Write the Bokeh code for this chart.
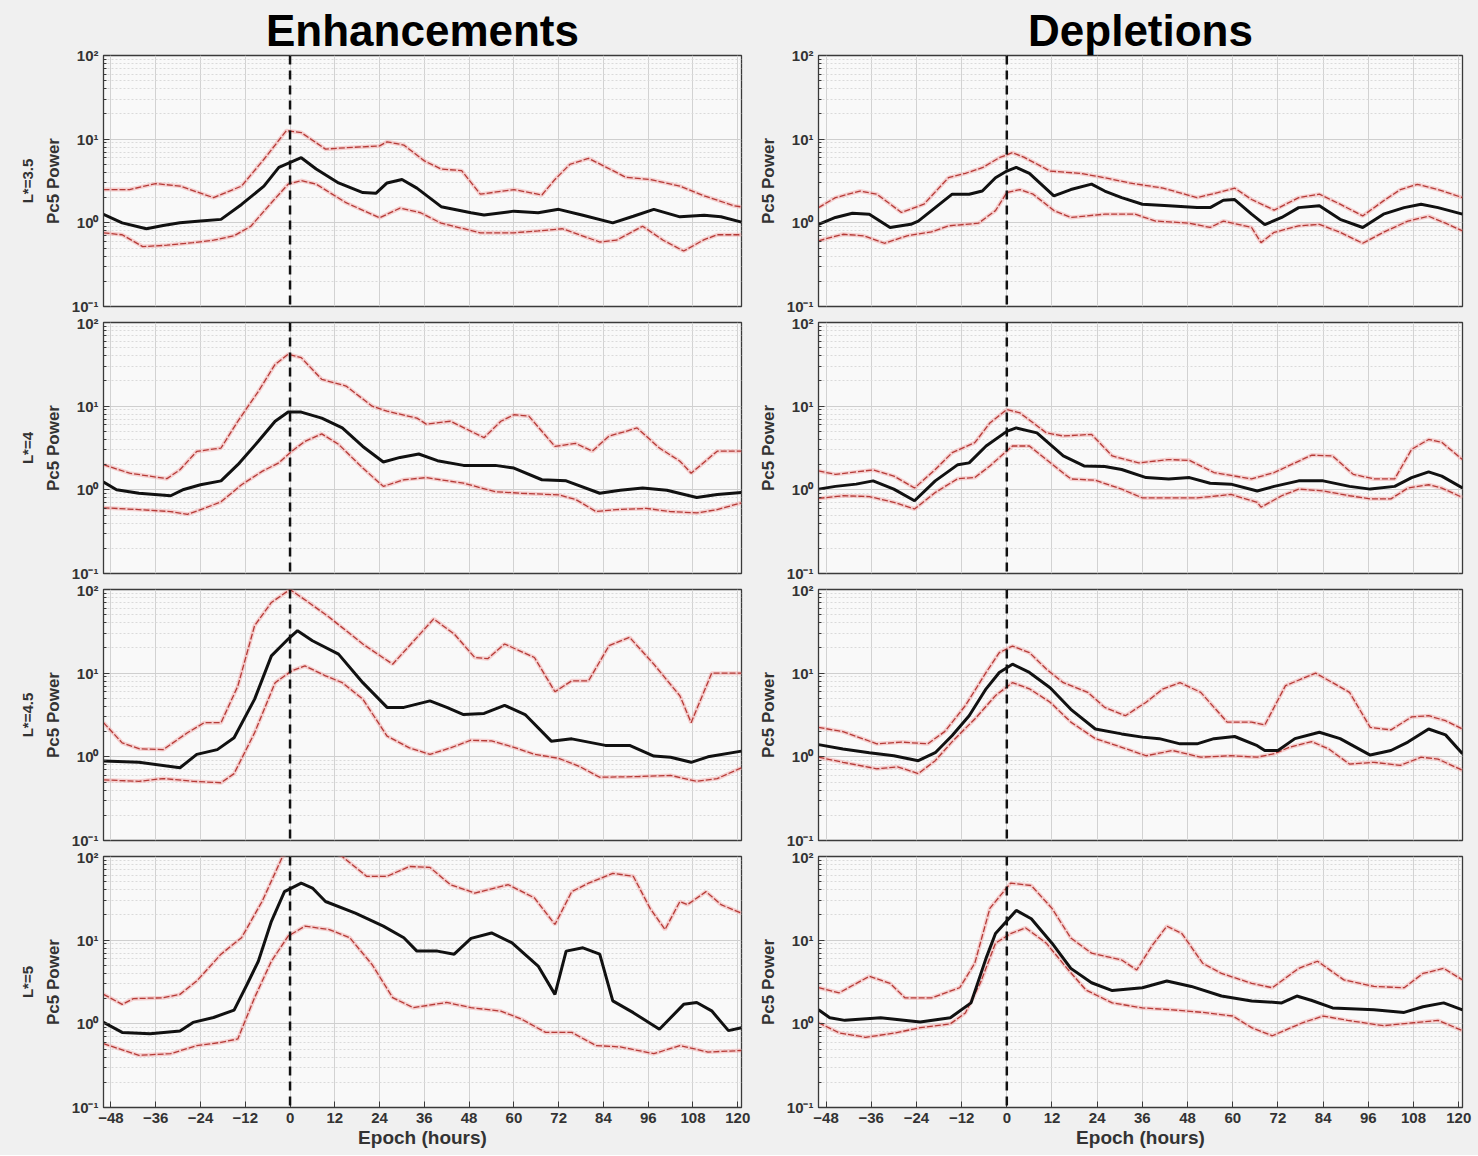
from bokeh.plotting import figure
from bokeh.layouts import column, row
from bokeh.models import Range1d, FixedTicker, Span, Title
from bokeh.embed import file_html
from bokeh.resources import INLINE

# ---------------------------------------------------------------- labels
COLUMN_TITLES = ["Enhancements", "Depletions"]
ROW_LABELS = ["L*=3.5", "L*=4", "L*=4.5", "L*=5"]
EPOCH_TICKS = [-48, -36, -24, -12, 0, 12, 24, 36, 48, 60, 72, 84, 96, 108, 120]
POWER_TICKS = [0.1, 1, 10, 100]
POWER_LABELS = {0.1: "10\u207b\u00b9", 1: "10\u2070", 10: "10\u00b9", 100: "10\u00b2"}
Y_LABEL = "Pc5 Power"
X_LABEL = "Epoch (hours)"

# ------------------------------------------------ (epoch hour, Pc5 power)
# Enhancements, L*=3.5
enh_l35_median = [(-50, 1.26), (-45, 1.0), (-38.5, 0.85), (-34, 0.93), (-29.5, 1.0), (-24, 1.05),
                  (-18.5, 1.1), (-13, 1.66), (-7, 2.75), (-3, 4.6), (3, 6.0), (7, 4.4), (13, 3.0),
                  (19.5, 2.3), (23, 2.25), (26, 3.0), (30, 3.3), (34, 2.6), (40.5, 1.56), (48.5, 1.32),
                  (52, 1.24), (60, 1.38), (66.5, 1.32), (72, 1.45), (78.5, 1.23), (86.5, 1.0), (92, 1.2),
                  (97.5, 1.45), (104.5, 1.18), (111, 1.23), (115.5, 1.18), (121, 1.02)]
enh_l35_upper = [(-50, 2.5), (-43, 2.5), (-36, 2.94), (-29.5, 2.75), (-20.5, 2.0), (-13, 2.75), (-7, 5.75),
                 (-1, 12.6), (3, 12), (9.5, 7.6), (15, 7.9), (24, 8.3), (26, 9.3), (30.5, 8.5), (36, 5.5),
                 (40.5, 4.4), (46, 4.2), (51, 2.2), (60, 2.5), (67.5, 2.15), (71, 3.3), (75, 5.0), (80, 5.9),
                 (84, 4.8), (90, 3.5), (96.5, 3.3), (104.5, 2.75), (111, 2.1), (119, 1.6), (121, 1.55)]
enh_l35_lower = [(-50, 0.76), (-45, 0.72), (-39.5, 0.52), (-33, 0.54), (-26, 0.58), (-20.5, 0.62), (-15, 0.7),
                 (-10.5, 0.91), (-5, 1.74), (-0.5, 2.9), (3, 3.2), (7, 2.9), (15, 1.74), (24, 1.15), (29.5, 1.5),
                 (35, 1.32), (40.5, 0.99), (51, 0.76), (60, 0.76), (66.5, 0.8), (73, 0.85), (83, 0.59),
                 (87.5, 0.62), (94.5, 0.91), (100, 0.62), (105.5, 0.46), (111, 0.63), (114.5, 0.72), (121, 0.72)]

# Enhancements, L*=4
enh_l4_median = [(-50, 1.24), (-46.5, 1.0), (-40.5, 0.91), (-32, 0.85), (-28.5, 1.01), (-24, 1.15), (-18.5, 1.28),
                 (-14, 2.0), (-8.5, 3.8), (-4, 6.6), (-0.5, 8.5), (3, 8.5), (8.5, 7.2), (14, 5.5), (19.5, 3.3),
                 (25, 2.15), (29.5, 2.44), (34.5, 2.68), (39.5, 2.23), (46.5, 1.96), (55, 1.96), (60, 1.82),
                 (67.5, 1.32), (74, 1.28), (83, 0.91), (88.5, 0.99), (94.5, 1.05), (101, 0.99), (109, 0.81),
                 (114.5, 0.88), (121, 0.93)]
enh_l4_upper = [(-50, 2.0), (-43, 1.58), (-33, 1.36), (-29.5, 1.74), (-25, 2.88), (-18.5, 3.16), (-14, 6.6),
                (-8.5, 15), (-4, 31.6), (-0.5, 41.7), (3, 38), (8.5, 20.9), (15, 17.4), (22, 10), (26, 8.7),
                (34, 7.2), (36.5, 6.1), (43, 6.6), (52, 4.2), (56.5, 6.6), (60, 7.9), (64, 7.6), (71, 3.3),
                (76.5, 3.6), (81, 2.9), (85.5, 4.4), (90, 5.0), (93, 5.5), (99, 3.16), (104.5, 2.2), (107.5, 1.58),
                (114.5, 2.9), (121, 2.9)]
enh_l4_lower = [(-50, 0.61), (-40.5, 0.58), (-32, 0.55), (-27.5, 0.51), (-23, 0.6), (-18.5, 0.72), (-13, 1.15),
                (-7.5, 1.66), (-3, 2.1), (0.5, 2.9), (4, 3.8), (8.5, 4.66), (13, 3.5), (19.5, 1.82), (25, 1.1),
                (30.5, 1.32), (36.5, 1.4), (46.5, 1.2), (55, 0.95), (62, 0.91), (72, 0.87), (76.5, 0.77),
                (82, 0.55), (87.5, 0.58), (95.5, 0.6), (102, 0.55), (109, 0.53), (114.5, 0.58), (121, 0.7)]

# Enhancements, L*=4.5
enh_l45_median = [(-50, 0.89), (-40.5, 0.86), (-29.5, 0.74), (-25, 1.07), (-19.5, 1.22), (-15, 1.69),
                  (-9.5, 4.9), (-5, 16.1), (-0.5, 25.6), (2, 32.2), (6, 24.4), (13, 16.9), (19.5, 7.7),
                  (26, 3.9), (30.5, 3.9), (37.5, 4.66), (42, 3.9), (46.5, 3.2), (52, 3.3), (57.5, 4.13),
                  (63, 3.2), (70, 1.54), (75.5, 1.64), (84.5, 1.37), (91, 1.37), (97.5, 1.02), (102, 0.99),
                  (107.5, 0.86), (112, 1.0), (121, 1.17)]
enh_l45_upper = [(-50, 2.56), (-45, 1.47), (-40.5, 1.25), (-34, 1.22), (-27.5, 1.94), (-23, 2.56),
                 (-18.5, 2.56), (-14, 7.0), (-9.5, 37), (-5, 70), (0, 100), (5, 70), (10.5, 46.6),
                 (19.5, 22.3), (27.5, 12.8), (32, 21.3), (38.5, 44.5), (44, 29.4), (49.5, 15.4), (53, 14.9),
                 (57.5, 22.3), (65.5, 15.4), (71, 6.0), (75.5, 8.1), (80, 8.1), (85.5, 21.3), (91, 26.8),
                 (97.5, 12.8), (104.5, 5.35), (107.5, 2.56), (113, 10), (121, 10)]
enh_l45_lower = [(-50, 0.53), (-40.5, 0.51), (-34, 0.55), (-26, 0.51), (-18.5, 0.49), (-15, 0.63),
                 (-9.5, 1.94), (-4, 7.7), (0.5, 10.7), (4, 12.2), (9.5, 9.3), (14, 7.7), (19.5, 4.9),
                 (26, 1.77), (32, 1.28), (37.5, 1.07), (43, 1.28), (48.5, 1.58), (54, 1.55), (60, 1.3),
                 (65.5, 1.07), (72, 0.96), (77.5, 0.77), (83, 0.57), (93, 0.58), (102, 0.6), (109, 0.51),
                 (114.5, 0.55), (121, 0.74)]

# Enhancements, L*=5
enh_l5_median = [(-50, 1.04), (-45, 0.79), (-37.5, 0.76), (-29.5, 0.82), (-26, 1.04), (-20.5, 1.19),
                 (-15, 1.46), (-11.5, 2.97), (-8.5, 5.6), (-5, 16.8), (-1.5, 38), (3, 48), (6, 42),
                 (9.5, 29), (17.5, 21), (25, 14.7), (30.5, 10.7), (34, 7.4), (39.5, 7.4), (44, 6.8),
                 (48.5, 10.5), (54, 12.2), (59.5, 9.3), (66.5, 4.9), (71, 2.25), (74, 7.4), (78.5, 8.1),
                 (83, 6.8), (86.5, 1.88), (92, 1.36), (99, 0.86), (105.5, 1.71), (109, 1.8), (113, 1.43),
                 (117.5, 0.83), (121, 0.9)]
enh_l5_upper = [(-50, 2.25), (-45, 1.71), (-42, 2.0), (-34, 2.05), (-29.5, 2.25), (-25, 3.25), (-18.5, 6.8),
                (-13, 10.7), (-7.5, 29), (-2, 100), (3, 150), (9, 130), (14, 100), (20.5, 58), (26, 58),
                (32, 76), (37.5, 74), (43, 46), (49.5, 36.6), (58.5, 46), (65.5, 32), (71, 15.4), (75.5, 38),
                (80, 48), (86.5, 63), (92, 58), (96.5, 24), (100.5, 13.4), (104.5, 29), (106.5, 26.6),
                (111.5, 38), (115.5, 26.6), (121, 21)]
enh_l5_lower = [(-50, 0.58), (-40.5, 0.42), (-32, 0.44), (-25, 0.55), (-18.5, 0.6), (-14, 0.66), (-9.5, 2.06),
                (-5, 5.6), (-0.5, 11.2), (4, 14.7), (10.5, 13.4), (16, 10.7), (22, 5.1), (27.5, 2.06),
                (33, 1.56), (42, 1.8), (48.5, 1.56), (56.5, 1.42), (62, 1.14), (68.5, 0.79), (75.5, 0.79),
                (82, 0.55), (88.5, 0.53), (97.5, 0.44), (104.5, 0.55), (112, 0.46), (121, 0.48)]

# Depletions, L*=3.5
dep_l35_median = [(-50, 0.96), (-45.5, 1.16), (-41, 1.3), (-36.5, 1.27), (-31, 0.88), (-25.5, 0.96),
                  (-23.5, 1.05), (-19, 1.52), (-14.5, 2.2), (-10, 2.2), (-6.5, 2.4), (-3, 3.46), (0, 4.16),
                  (2.5, 4.6), (6, 3.9), (12.5, 2.1), (17, 2.5), (22.5, 2.9), (26, 2.4), (30.5, 2.0), (36, 1.67),
                  (43, 1.6), (50.5, 1.52), (54, 1.52), (57.5, 1.86), (60.5, 1.9), (65, 1.27), (68.5, 0.95),
                  (73, 1.16), (77.5, 1.52), (83, 1.6), (88.5, 1.1), (94.5, 0.88), (100, 1.27), (105.5, 1.52),
                  (110, 1.67), (114.5, 1.52), (121, 1.27)]
dep_l35_upper = [(-50, 1.52), (-45.5, 2.0), (-39, 2.4), (-34.5, 2.2), (-28, 1.33), (-22, 1.67), (-15.5, 3.46),
                 (-11, 3.9), (-6.5, 4.56), (-2, 6.0), (1.5, 6.9), (4.5, 6.1), (11.5, 4.16), (19.5, 3.9),
                 (26, 3.46), (32.5, 3.0), (41.5, 2.6), (50.5, 2.0), (56, 2.3), (60.5, 2.6), (65, 1.9),
                 (71, 1.42), (77.5, 2.0), (83, 2.2), (88.5, 1.67), (94.5, 1.21), (100, 1.83), (104.5, 2.5),
                 (109, 2.88), (114.5, 2.5), (121, 2.0)]
dep_l35_lower = [(-50, 0.61), (-43.5, 0.73), (-38, 0.7), (-32.5, 0.57), (-26.5, 0.7), (-20, 0.78),
                 (-15.5, 0.92), (-7.5, 0.99), (-3, 1.4), (0, 2.3), (3.5, 2.5), (7, 2.2), (12.5, 1.4),
                 (17, 1.16), (26, 1.27), (34, 1.27), (39.5, 1.05), (48.5, 0.99), (54, 0.88), (57.5, 1.05),
                 (65, 0.88), (67.5, 0.58), (71, 0.77), (77.5, 0.92), (83, 0.96), (88.5, 0.77), (94.5, 0.57),
                 (100, 0.77), (106.5, 1.05), (112, 1.2), (116.5, 0.99), (121, 0.8)]

# Depletions, L*=4
dep_l4_median = [(-50, 1.02), (-45.5, 1.1), (-40, 1.17), (-35.5, 1.28), (-30, 1.02), (-24.5, 0.74), (-19, 1.28),
                 (-13, 2.0), (-10, 2.1), (-5.5, 3.34), (0, 5.0), (2.5, 5.5), (8, 4.8), (15, 2.54), (20.5, 1.93),
                 (26, 1.9), (30.5, 1.75), (37, 1.4), (43, 1.35), (48.5, 1.4), (54, 1.2), (59.5, 1.17),
                 (66.5, 0.97), (71, 1.1), (77.5, 1.28), (84, 1.28), (91, 1.1), (96.5, 1.02), (103, 1.1),
                 (107.5, 1.4), (112, 1.64), (115.5, 1.46), (121, 1.05)]
dep_l4_upper = [(-50, 1.68), (-45.5, 1.53), (-35.5, 1.73), (-30, 1.46), (-24.5, 1.05), (-19, 1.75),
                (-14.5, 2.78), (-8.5, 3.66), (-4.5, 6.3), (0, 9.1), (3.5, 8.3), (10.5, 4.8), (15, 4.4),
                (22.5, 4.6), (28, 2.54), (35, 2.1), (43, 2.3), (48.5, 2.25), (55, 1.61), (65, 1.35), (71, 1.61),
                (76.5, 2.1), (81, 2.6), (86.5, 2.54), (92, 1.53), (97.5, 1.35), (103, 1.35), (107.5, 3.05),
                (112, 4.0), (115.5, 3.7), (121, 2.3)]
dep_l4_lower = [(-50, 0.79), (-43.5, 0.85), (-36.5, 0.83), (-30, 0.71), (-24.5, 0.59), (-19, 0.93), (-13, 1.36),
                (-8.5, 1.4), (-4.5, 1.93), (1.5, 3.34), (6, 3.34), (10.5, 2.3), (17, 1.35), (23.5, 1.3),
                (30.5, 1.02), (36, 0.8), (43, 0.8), (50.5, 0.8), (59.5, 0.88), (66.5, 0.71), (67.5, 0.62),
                (73, 0.85), (77.5, 1.02), (84, 0.97), (91, 0.85), (96.5, 0.78), (102, 0.78), (106.5, 1.05),
                (112, 1.15), (115.5, 1.05), (121, 0.81)]

# Depletions, L*=4.5
dep_l45_median = [(-50, 1.4), (-43.5, 1.24), (-36.5, 1.12), (-30, 1.03), (-23.5, 0.9), (-19, 1.12),
                  (-14.5, 1.8), (-10, 3.1), (-5.5, 6.5), (-2, 10.2), (1.5, 12.8), (6, 10.2), (11.5, 6.7),
                  (17, 3.7), (23.5, 2.15), (30.5, 1.88), (36, 1.72), (40.5, 1.65), (46, 1.43), (50.5, 1.43),
                  (55, 1.65), (60.5, 1.75), (66.5, 1.36), (68.5, 1.19), (72, 1.19), (76.5, 1.65), (83, 1.97),
                  (88.5, 1.65), (96.5, 1.05), (102, 1.19), (106.5, 1.5), (112, 2.15), (116.5, 1.83), (121, 1.09)]
dep_l45_upper = [(-50, 2.25), (-43.5, 2.0), (-34.5, 1.43), (-28, 1.5), (-21, 1.43), (-16.5, 2.0), (-11, 4.1),
                 (-5.5, 10.2), (-2, 17.6), (1.5, 21.1), (6, 17.6), (10.5, 11.2), (15, 7.7), (21.5, 5.9),
                 (26, 3.9), (31.5, 3.1), (37, 4.5), (41.5, 6.5), (46, 7.7), (51.5, 5.9), (58.5, 2.6),
                 (65, 2.6), (68.5, 2.4), (74, 7.1), (82, 10), (86.5, 7.7), (91, 5.9), (96.5, 2.25),
                 (102, 2.1), (107.5, 3.0), (112, 3.1), (116.5, 2.7), (121, 2.15)]
dep_l45_lower = [(-50, 0.99), (-43.5, 0.86), (-34.5, 0.72), (-29, 0.76), (-23.5, 0.63), (-19, 0.9),
                 (-14.5, 1.52), (-8.5, 2.83), (-3, 5.4), (1.5, 7.7), (6, 6.5), (11.5, 4.5), (17, 2.6),
                 (23.5, 1.65), (30.5, 1.3), (37, 1.03), (44, 1.19), (51.5, 0.99), (59.5, 1.03), (66.5, 0.99),
                 (71, 1.09), (75, 1.3), (81, 1.52), (85.5, 1.24), (91, 0.82), (97.5, 0.86), (104.5, 0.79),
                 (110, 0.99), (114.5, 0.94), (121, 0.69)]

# Depletions, L*=5
dep_l5_median = [(-50, 1.47), (-47, 1.18), (-43, 1.1), (-33.5, 1.18), (-23, 1.05), (-15, 1.18), (-9.5, 1.78),
                 (-5.5, 6.1), (-3, 12), (2.5, 22.7), (6.5, 18), (12, 9.2), (17, 4.6), (22.5, 3.1), (28, 2.5),
                 (36, 2.7), (42.5, 3.25), (49, 2.8), (57, 2.15), (65, 1.88), (73, 1.78), (77, 2.15), (81, 1.9),
                 (86.5, 1.55), (97.5, 1.47), (105.5, 1.37), (110.5, 1.6), (116, 1.78), (121, 1.47)]
dep_l5_upper = [(-50, 2.7), (-44.5, 2.35), (-36.5, 3.7), (-31, 3.05), (-27, 2.04), (-20, 2.04), (-12.5, 2.7),
                (-8.5, 5.3), (-4.5, 24), (1, 48), (6.5, 45), (12, 24), (17, 10.6), (22.5, 7), (30.5, 5.8),
                (34.5, 4.4), (38.5, 8.5), (42.5, 14.7), (46.5, 12), (52, 5.3), (57, 4.0), (65, 3.05),
                (70.5, 2.7), (77.5, 4.6), (82.5, 5.6), (89.5, 3.35), (97.5, 2.8), (105.5, 2.7), (110.5, 4.0),
                (116, 4.6), (121, 3.35)]
dep_l5_lower = [(-50, 1.03), (-44.5, 0.78), (-37.5, 0.69), (-29.5, 0.78), (-23, 0.9), (-15, 1.0), (-11, 1.35),
                (-7, 3.1), (-3, 9.2), (1, 12), (5, 14), (10.5, 9.2), (16, 4.6), (21, 2.54), (28, 1.78),
                (36, 1.55), (44, 1.47), (52, 1.37), (60, 1.24), (65, 0.9), (70.5, 0.72), (78.5, 1.03),
                (84, 1.24), (90.5, 1.1), (100, 0.95), (108, 1.03), (114.5, 1.1), (121, 0.83)]

PANELS = [
    [(enh_l35_median, enh_l35_upper, enh_l35_lower), (dep_l35_median, dep_l35_upper, dep_l35_lower)],
    [(enh_l4_median, enh_l4_upper, enh_l4_lower), (dep_l4_median, dep_l4_upper, dep_l4_lower)],
    [(enh_l45_median, enh_l45_upper, enh_l45_lower), (dep_l45_median, dep_l45_upper, dep_l45_lower)],
    [(enh_l5_median, enh_l5_upper, enh_l5_lower), (dep_l5_median, dep_l5_upper, dep_l5_lower)],
]

# ---------------------------------------------------------------- styling
FONT = "Liberation Sans"
PAGE_BG = "#f0f0f0"
AXES_BG = "#f9f9f9"
INK = "#333333"
FRAME = "#3a3a3a"
MINOR_POWER = [m * 10.0 ** e for e in (-1, 0, 1) for m in range(2, 10)]


def unzip(pairs):
    return [a for a, _ in pairs], [b for _, b in pairs]


def style_axis(ax):
    ax.major_tick_in = 6
    ax.major_tick_out = 0
    ax.minor_tick_in = 3
    ax.minor_tick_out = 0
    ax.axis_line_color = FRAME
    ax.major_tick_line_color = FRAME
    ax.minor_tick_line_color = FRAME
    ax.major_label_text_font = FONT
    ax.major_label_text_font_style = "bold"
    ax.major_label_text_color = INK
    ax.axis_label_text_font = FONT
    ax.axis_label_text_font_style = "bold"
    ax.axis_label_text_color = INK


def make_panel(ri, ci, series):
    median, upper, lower = series
    top, bottom, left = ri == 0, ri == len(PANELS) - 1, ci == 0

    x_ticker = FixedTicker(ticks=EPOCH_TICKS, minor_ticks=[])
    y_ticker = FixedTicker(ticks=POWER_TICKS, minor_ticks=MINOR_POWER)

    p = figure(
        frame_width=638 if left else 644, frame_height=251,
        x_range=Range1d(-50, 121), y_range=Range1d(0.1, 100), y_axis_type="log",
        output_backend="svg", toolbar_location=None,
        min_border_left=103 if left else 62, min_border_right=14 if left else 16,
        min_border_top=55 if top else 8, min_border_bottom=48 if bottom else 8,
        background_fill_color=AXES_BG, border_fill_color=PAGE_BG,
        outline_line_color=FRAME, outline_line_width=1.3,
    )

    # grid: verticals every 12 h, decades solid, minor decades dotted
    p.xgrid.ticker = x_ticker
    p.xgrid.grid_line_color = "#d2d2d2"
    p.ygrid.ticker = y_ticker
    p.ygrid.grid_line_color = "#cfcfcf"
    p.ygrid.minor_grid_line_color = "#dadada"
    p.ygrid.minor_grid_line_dash = "2 2"

    style_axis(p.yaxis[0])
    p.yaxis.ticker = y_ticker
    p.yaxis.major_label_overrides = POWER_LABELS
    p.yaxis.major_label_text_font_size = "15px"
    p.yaxis.major_label_standoff = 5
    p.yaxis.axis_label = Y_LABEL
    p.yaxis.axis_label_text_font_size = "17px"
    p.yaxis.axis_label_standoff = 6

    if bottom:
        style_axis(p.xaxis[0])
        p.xaxis.ticker = x_ticker
        p.xaxis.major_label_text_font_size = "15px"
        p.xaxis.major_label_standoff = 5
        p.xaxis.axis_label = X_LABEL
        p.xaxis.axis_label_text_font_size = "19px"
        p.xaxis.axis_label_standoff = 1
    else:
        p.xaxis.visible = False

    if left:
        p.add_layout(Title(text=ROW_LABELS[ri], align="center", text_font=FONT, text_font_size="15px",
                           text_font_style="bold", text_color=INK, standoff=10), "left")

    if top:
        p.title.text = COLUMN_TITLES[ci]
        p.title.align = "center"
        p.title.text_font = FONT
        p.title.text_font_size = "44px"
        p.title.text_font_style = "bold"
        p.title.text_color = "#000000"
        p.title.standoff = 2

    # quartile envelopes (red) and median (black)
    for band in (upper, lower):
        bx, by = unzip(band)
        p.line(bx, by, line_color="#f1a5a5", line_width=4, line_alpha=0.5)
        p.line(bx, by, line_color="#b53b37", line_width=1.3, line_dash="6 2")
    mx, my = unzip(median)
    p.line(mx, my, line_color="#111111", line_width=3)

    # zero epoch marker
    p.add_layout(Span(location=0, dimension="height", line_color="#111111",
                      line_width=2.5, line_dash="9 6"))
    return p


rows = []
for ri, pair in enumerate(PANELS):
    rows.append(row([make_panel(ri, ci, s) for ci, s in enumerate(pair)], spacing=0))
layout = column(rows, spacing=0, styles={"background-color": PAGE_BG})

open("out.html", "w").write(file_html(layout, INLINE, title="Pc5 power superposed epochs"))
